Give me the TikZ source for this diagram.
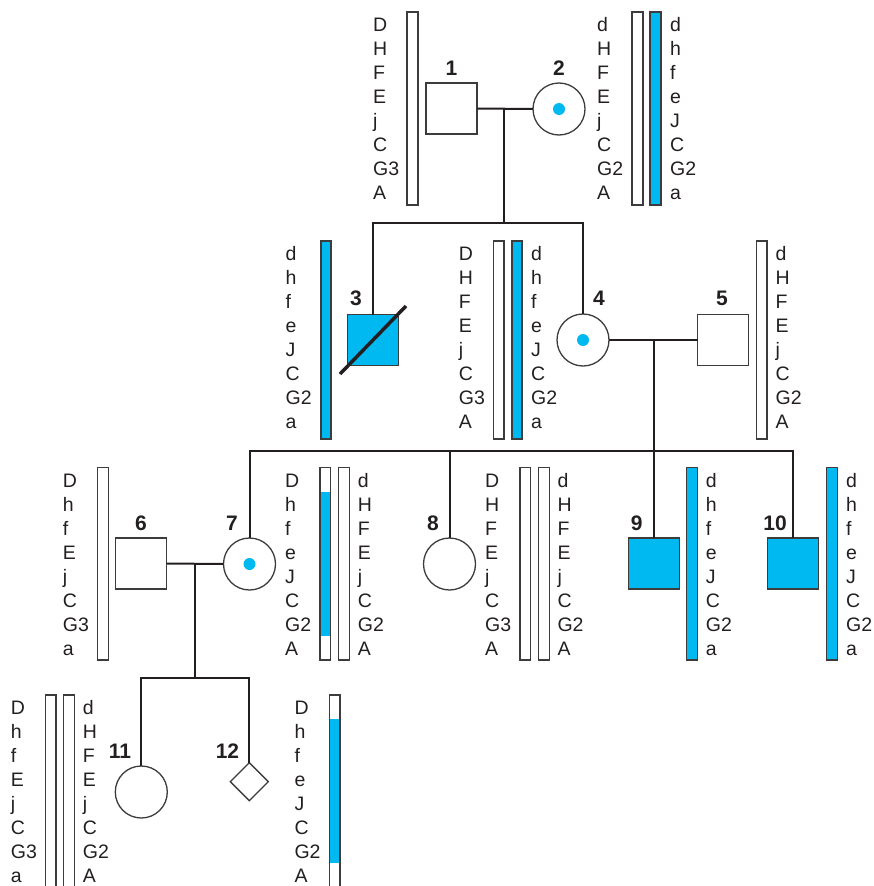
\documentclass[tikz,border=0pt]{standalone}
\usepackage{fontspec}
\setmainfont{Liberation Sans}
\usetikzlibrary{shapes.geometric}
\definecolor{pblue}{RGB}{0,185,240}
\definecolor{ink}{RGB}{35,31,32}
\definecolor{edgec}{RGB}{60,60,60}
\newcommand\gcol[4]{%
  \foreach \t [count=\i from 0] in {#4}
    \node[gt] (#1-\i) at (#2, {#3+19.5+24*\i}) {\t};}
\newcommand\gbar[5]{\draw[bar,fill=#5] (#1,#3) rectangle (#2,#4);}
\begin{document}
\begin{tikzpicture}[x=1pt,y=-1pt,
  person/.style={draw=edgec,line width=1.3pt,inner sep=0pt,outer sep=0pt,fill=white},
  male/.style={person,rectangle,minimum size=51pt},
  female/.style={person,circle,minimum size=52pt},
  unk/.style={person,diamond,minimum size=38pt},
  aff/.style={fill=pblue},
  link/.style={draw=ink,line width=2pt},
  lbl/.style={font=\bfseries\fontsize{21}{21}\selectfont,text=ink,inner sep=0pt,anchor=base},
  gt/.style={font=\fontsize{19.5}{19.5}\selectfont,text=ink,inner sep=0pt,anchor=base west},
  bar/.style={draw=edgec,line width=1.2pt},
  ]
\useasboundingbox (0,0) rectangle (873,886);
\clip (0,0) rectangle (873,886);

% ---- chromosome bars ----
\gbar{407}{418}{12}{205}{white}
\gbar{632}{643}{12}{205}{white}
\gbar{650}{661}{12}{205}{pblue}

\gbar{321}{331}{241}{439}{pblue}
\gbar{493.5}{504}{241}{439}{white}
\gbar{512}{522}{241}{439}{pblue}
\gbar{756.6}{767}{241}{439}{white}

\gbar{97.7}{108.3}{467.7}{660}{white}
\gbar{320}{330.7}{467.7}{660}{white}
\fill[pblue] (320,492.3) rectangle (330.7,635.7);
\draw[bar] (320,467.7) rectangle (330.7,660);
\gbar{338.3}{349.3}{467.7}{660}{white}
\gbar{520}{530.7}{467.7}{660}{white}
\gbar{538.7}{549.3}{467.7}{660}{white}
\gbar{686.7}{697.3}{467.7}{660}{pblue}
\gbar{826.7}{837.3}{467.7}{660}{pblue}

\gbar{45.3}{56}{695}{900}{white}
\gbar{63.3}{74.3}{695}{900}{white}
\gbar{329.3}{340}{695}{900}{white}
\fill[pblue] (329.3,719.3) rectangle (340,862.7);
\draw[bar] (329.3,695) rectangle (340,900);

% ---- allele columns ----
\gcol{c1}{373}{12}{D,H,F,E,j,C,G3,A}
\gcol{c2a}{597}{12}{d,H,F,E,j,C,G2,A}
\gcol{c2b}{670}{12}{d,h,f,e,J,C,G2,a}

\gcol{c3}{285.5}{241}{d,h,f,e,J,C,G2,a}
\gcol{c4a}{458.7}{241}{D,H,F,E,j,C,G3,A}
\gcol{c4b}{531}{241}{d,h,f,e,J,C,G2,a}
\gcol{c5}{775.5}{241}{d,H,F,E,j,C,G2,A}

\gcol{c6}{62.7}{467.7}{D,h,f,E,j,C,G3,a}
\gcol{c7a}{285}{467.7}{D,h,f,e,J,C,G2,A}
\gcol{c7b}{357.7}{467.7}{d,H,F,E,j,C,G2,A}
\gcol{c8a}{485}{467.7}{D,H,F,E,j,C,G3,A}
\gcol{c8b}{557.3}{467.7}{d,H,F,E,j,C,G2,A}
\gcol{c9}{705.7}{467.7}{d,h,f,e,J,C,G2,a}
\gcol{c10}{846}{467.7}{d,h,f,e,J,C,G2,a}

\gcol{c11a}{10.7}{695}{D,h,f,E,j,C,G3,a}
\gcol{c11b}{82.7}{695}{d,H,F,E,j,C,G2,A}
\gcol{c12}{294.3}{695}{D,h,f,e,J,C,G2,A}

% ---- connector coordinates ----
\coordinate (m12) at (504,109);
\coordinate (s2) at (504,223);
\coordinate (m45) at (654,340);
\coordinate (s3) at (654,451);
\coordinate (m67) at (195,563.5);
\coordinate (s4) at (195,678.3);

% ---- persons ----
\node[male] (p1) at (451.5,108.5) {};
\node[female] (p2) at (559,109) {};
\node[male,aff] (p3) at (373,340) {};
\node[female] (p4) at (583,340) {};
\node[male] (p5) at (723,340) {};
\node[male] (p6) at (141.3,563.5) {};
\node[female] (p7) at (249.5,564) {};
\node[female] (p8) at (449.5,564) {};
\node[male,aff] (p9) at (654,563.5) {};
\node[male,aff] (p10) at (793,563.5) {};
\node[female] (p11) at (141.3,792) {};
\node[unk] (p12) at (249.3,781.7) {};

\draw[link] (p1.east) -- (p2.west);
\draw[link] (m12) -- (s2);
\draw[link] (p3.north) |- (s2) -| (p4.north);
\draw[link] (p4.east) -- (p5.west);
\draw[link] (m45) -- (p9.north);
\draw[link] (p7.north) |- (s3) -| (p10.north);
\draw[link] (p8.north) -- (p8.north |- s3);
\draw[link] (p6.east) -- (p7.west);
\draw[link] (m67) -- (s4);
\draw[link] (p11.north) |- (s4) -| (p12.north);

% carrier dots
\fill[pblue] (p2) circle[radius=6pt];
\fill[pblue] (p4) circle[radius=6pt];
\fill[pblue] (p7) circle[radius=6pt];

% deceased strike
\draw[ink,line width=3.5pt] (p3) ++(-33,34) -- ++(66,-68);

% ---- labels ----
\node[lbl] (l1) at (451.5,75) {1};
\node[lbl] (l2) at (559,75) {2};
\node[lbl] (l3) at (356,305) {3};
\node[lbl] (l4) at (599,305) {4};
\node[lbl] (l5) at (722,305) {5};
\node[lbl] (l6) at (141,530) {6};
\node[lbl] (l7) at (232,530) {7};
\node[lbl] (l8) at (433,530) {8};
\node[lbl] (l9) at (636.7,530) {9};
\node[lbl] (l10) at (775,530) {10};
\node[lbl] (l11) at (120,758) {11};
\node[lbl] (l12) at (227.5,758) {12};
\end{tikzpicture}
\end{document}
